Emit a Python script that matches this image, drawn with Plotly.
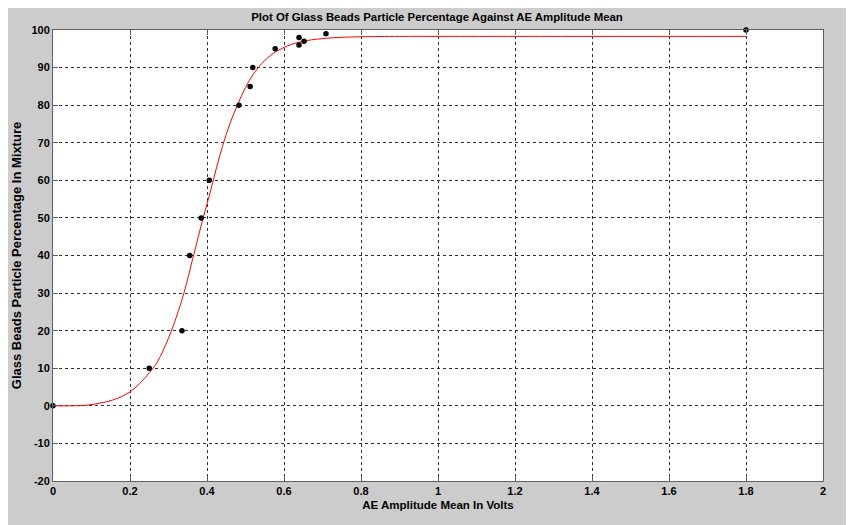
import plotly.graph_objects as go

# Measured data points
x_points = [0, 0.25, 0.335, 0.355, 0.385, 0.406, 0.483, 0.512, 0.519, 0.577, 0.639, 0.639, 0.652, 0.709, 1.80]
y_points = [0, 10, 20, 40, 50, 60, 80, 85, 90, 95, 98, 96, 97, 99, 100]

# Fitted curve
x_curve = [0, 0.04, 0.08, 0.11, 0.14, 0.17, 0.2, 0.225, 0.25, 0.27, 0.3, 0.32, 0.34, 0.365, 0.39, 0.41,
           0.425, 0.44, 0.46, 0.48, 0.5, 0.52, 0.55, 0.58, 0.61, 0.63, 0.66, 0.71, 0.75, 0.8, 0.9, 1.0, 1.4, 1.8]
y_curve = [0, 0, 0.1, 0.5, 1.1, 2.1, 3.7, 5.9, 8.8, 11.5, 18, 23.5, 30, 40, 50, 57.5,
           63.5, 69.0, 75.2, 80.3, 84.7, 88.2, 91.9, 94.3, 95.8, 96.5, 97.2, 97.8, 98.05, 98.2, 98.3, 98.3, 98.3, 98.3]

y_tickvals = [-20, -10, 0, 10, 20, 30, 40, 50, 60, 70, 80, 90, 100]
y_ticktext = ["-20", "-10", "0", "10", "20", "30", "40", "50", "60", "70", "80", "90", "100"]
x_tickvals = [0, 0.2, 0.4, 0.6, 0.8, 1.0, 1.2, 1.4, 1.6, 1.8, 2.0]
x_ticktext = ["0", "0.2", "0.4", "0.6", "0.8", "1", "1.2", "1.4", "1.6", "1.8", "2"]

title_text = "Plot Of Glass Beads Particle Percentage Against AE Amplitude Mean"
x_title = "AE Amplitude Mean In Volts"
y_title = "Glass Beads Particle Percentage In Mixture"

FONT = "Liberation Sans, Arial, Helvetica, sans-serif"

fig = go.Figure()
fig.add_trace(go.Scatter(x=x_curve, y=y_curve, mode="lines",
                         line=dict(color="#ff0000", width=1, shape="spline", smoothing=1.0),
                         hoverinfo="skip", showlegend=False))
fig.add_trace(go.Scatter(x=x_points, y=y_points, mode="markers", marker=dict(color="black", size=5.5),
                         cliponaxis=False, showlegend=False))

# page body has an 8px margin; figure occupies the rest of the 854x525 window
W, H = 846, 517
L, R, T, B = 45, 31, 22, 44

fig.update_layout(
    width=W, height=H,
    margin=dict(l=L, r=R, t=T, b=B, autoexpand=False),
    paper_bgcolor="#cccccc",
    plot_bgcolor="white",
    title=dict(text="<b>" + title_text + "</b>", x=429 / W, xanchor="center",
               y=1 - 9 / H, yanchor="middle",
               font=dict(family=FONT, size=11.4, color="black")),
    xaxis=dict(range=[0, 2], tickvals=x_tickvals, ticktext=x_ticktext, automargin=False,
               showgrid=True, gridcolor="#303030", griddash="dot", gridwidth=1,
               zeroline=False, showline=True, linecolor="#606060", linewidth=1, mirror="ticks",
               ticks="inside", ticklen=5, tickcolor="#606060",
               tickfont=dict(family=FONT, size=11, color="black", weight="bold"),
               title=dict(text="<b>" + x_title + "</b>", font=dict(family=FONT, size=11.5, color="black"), standoff=4)),
    yaxis=dict(range=[-20, 100], tickvals=y_tickvals, ticktext=y_ticktext, automargin=False,
               showgrid=True, gridcolor="#303030", griddash="dot", gridwidth=1,
               zeroline=False, showline=True, linecolor="#606060", linewidth=1, mirror="ticks",
               ticks="inside", ticklen=5, tickcolor="#606060",
               tickfont=dict(family=FONT, size=11, color="black", weight="bold"),
               title=dict(text="<b>" + y_title + "</b>", font=dict(family=FONT, size=13, color="black"), standoff=6)),
)

fig.write_html("out.html")
